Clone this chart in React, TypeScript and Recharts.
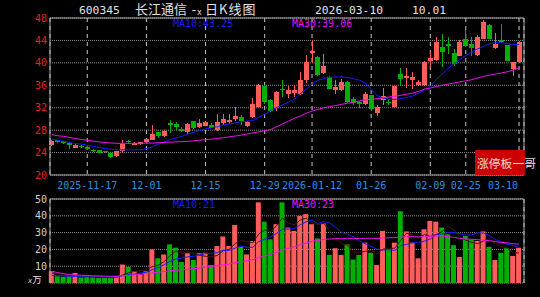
import {
  ComposedChart,
  Bar,
  Line,
  XAxis,
  YAxis,
  CartesianGrid,
  ReferenceLine,
  Cell,
} from 'recharts';

// daily candles, 2025-11-11 .. 2026-03-10
const OPEN = [
  25.4, 26.2, 26.0, 25.7, 24.9, 25.2, 25.0, 24.5, 24.4, 24.2,
  24.0, 23.4, 24.2, 26.0, 25.4, 25.5, 25.8, 26.3, 27.6, 26.9,
  29.3, 29.1, 28.2, 27.6, 29.6, 28.5, 28.8, 29.0, 28.1, 29.2,
  29.5, 29.9, 30.3, 28.7, 30.3, 32.1, 35.8, 33.4, 32.0, 35.4,
  34.5, 34.6, 34.5, 36.9, 41.8, 41.1, 38.2, 37.5, 35.2, 35.2,
  36.6, 33.5, 33.0, 32.7, 34.2, 31.0, 33.4, 33.1, 32.1, 38.1,
  37.3, 37.0, 36.0, 36.0, 40.3, 40.5, 42.9, 43.3, 41.8, 41.3,
  44.3, 43.4, 41.4, 44.3, 46.7, 42.6, 44.0, 43.1, 38.9, 40.1,
];
const HIGH = [
  26.3, 26.3, 26.1, 25.8, 25.6, 25.3, 25.1, 24.6, 24.5, 24.3,
  24.05, 24.3, 26.2, 26.3, 25.8, 25.9, 26.5, 28.9, 27.7, 28.1,
  29.8, 29.4, 28.6, 29.2, 29.7, 30.0, 29.6, 29.2, 30.9, 30.9,
  30.9, 32.2, 30.7, 29.7, 33.8, 36.2, 36.1, 33.6, 34.9, 37.0,
  35.9, 36.1, 38.4, 41.4, 44.0, 41.2, 41.6, 37.6, 36.9, 37.2,
  36.7, 33.9, 33.2, 34.8, 34.3, 32.4, 35.5, 33.5, 36.0, 39.0,
  39.0, 38.4, 37.0, 40.3, 42.0, 44.6, 45.2, 44.6, 42.5, 44.0,
  45.8, 44.6, 45.0, 47.6, 47.0, 45.3, 47.0, 43.2, 40.2, 43.9,
];
const LOW = [
  25.2, 25.7, 25.5, 24.6, 24.8, 24.9, 24.5, 24.1, 23.9, 23.9,
  23.1, 23.2, 24.0, 25.5, 25.3, 25.4, 25.6, 26.2, 26.6, 26.8,
  27.5, 28.0, 27.6, 27.4, 28.2, 28.3, 28.7, 28.3, 27.9, 29.0,
  29.1, 29.6, 29.0, 28.5, 30.2, 31.9, 32.7, 31.3, 31.5, 33.9,
  33.7, 34.0, 34.3, 36.4, 39.9, 37.6, 38.0, 35.3, 34.5, 35.0,
  32.9, 32.5, 32.0, 32.5, 31.5, 30.6, 32.4, 32.4, 32.0, 36.0,
  35.6, 35.3, 35.9, 35.9, 39.3, 40.4, 39.3, 41.6, 39.5, 41.2,
  42.8, 41.3, 41.3, 44.2, 44.2, 42.5, 43.6, 40.3, 37.7, 40.0,
];
const CLOSE = [
  26.1, 25.8, 25.7, 25.3, 25.4, 25.0, 24.6, 24.2, 24.0, 24.1,
  23.2, 24.2, 25.6, 25.8, 25.7, 25.8, 26.4, 27.3, 26.9, 27.9,
  29.0, 28.6, 27.8, 29.1, 28.4, 29.2, 29.4, 28.4, 29.5, 30.0,
  29.8, 30.6, 29.6, 29.5, 32.7, 36.0, 33.0, 31.5, 34.8, 35.2,
  35.2, 35.2, 37.0, 40.2, 42.1, 37.8, 39.5, 35.4, 35.7, 36.6,
  33.0, 32.9, 32.6, 34.5, 31.7, 32.2, 34.1, 32.8, 35.9, 37.2,
  37.6, 37.4, 36.6, 40.2, 40.8, 43.7, 42.0, 43.0, 39.8, 43.8,
  43.0, 42.7, 44.6, 47.3, 44.3, 43.4, 43.7, 40.4, 40.1, 43.8,
];
const MA10 = [
  26.4, 26.2, 26.0, 25.8, 25.6, 25.5, 25.3, 25.1, 24.9, 24.7,
  24.6, 24.5, 24.5, 24.5, 24.5, 24.5, 24.7, 25.0, 25.5, 25.9,
  26.3, 26.6, 26.9, 27.3, 27.6, 27.9, 28.2, 28.4, 28.6, 28.9,
  29.1, 29.3, 29.5, 29.6, 29.7, 30.3, 30.8, 31.5, 32.0, 32.5,
  33.0, 33.5, 34.5, 35.3, 36.2, 36.9, 37.2, 37.4, 37.5, 37.5,
  37.4, 37.2, 36.9, 36.4, 35.2, 34.2, 33.7, 33.5, 33.5, 33.6,
  33.8, 34.1, 34.6, 35.2, 35.8, 37.0, 38.0, 39.0, 39.8, 40.6,
  41.3, 41.9, 42.5, 42.9, 43.4, 43.6, 43.6, 43.4, 43.3, 43.25,
];
const MA30 = [
  27.2, 27.0, 26.9, 26.7, 26.5, 26.35, 26.2, 26.05, 25.9, 25.8,
  25.7, 25.65, 25.65, 25.65, 25.65, 25.65, 25.7, 25.7, 25.75, 25.8,
  25.85, 25.9, 25.95, 26.0, 26.1, 26.2, 26.3, 26.4, 26.5, 26.65,
  26.8, 26.95, 27.1, 27.3, 27.5, 27.7, 27.9, 28.1, 28.6, 29.1,
  29.6, 30.1, 30.5, 31.0, 31.4, 31.7, 32.0, 32.2, 32.4, 32.6,
  32.8, 33.0, 33.2, 33.4, 33.5, 33.6, 33.75, 33.9, 34.05, 34.2,
  34.4, 34.6, 34.9, 35.3, 35.5, 35.8, 36.0, 36.2, 36.4, 36.6,
  36.8, 37.0, 37.3, 37.6, 37.8, 38.0, 38.2, 38.4, 38.7, 39.06,
];

// volume, 万手
const VOLUME = [
  7, 4, 3.8, 4, 6, 3.3, 3.8, 3.3, 3, 3,
  3, 4, 11, 9.5, 7, 5, 7, 20, 14.7, 17,
  23, 21, 12.5, 17.7, 13.7, 17.7, 18, 10.7, 22, 27.7,
  22, 34.5, 21.5, 17, 25, 48, 36.5, 26, 35, 48,
  33, 31, 40, 41, 35, 26.5, 35.5, 16.7, 20.7, 16.7,
  23, 14, 16.7, 24, 18, 10.7, 31, 20, 24, 42.7,
  30.7, 24, 14.7, 32, 37, 36.5, 33, 29, 22.5, 15.5,
  28, 26, 25, 30.7, 21.5, 13.7, 18, 20.7, 16, 21,
];
const VOL_MA5 = [
  6, 5.5, 5, 4.5, 4.5, 4.2, 4.2, 4, 3.9, 3.5,
  3.2, 3.3, 4.8, 6.1, 6.9, 7.3, 7.9, 9.7, 10.7, 12.7,
  16.3, 19.1, 17.6, 18.6, 17.6, 16.5, 15.9, 15.6, 16.4, 19.2,
  20.1, 23.4, 25.5, 24.5, 24, 29.2, 31.6, 30.5, 34.1, 38.7,
  35.7, 34.6, 37.4, 38.6, 36, 34.7, 35.6, 30.9, 26.9, 23.2,
  22.5, 18.2, 18.2, 18.9, 19.3, 17.5, 20.1, 20.7, 20.7, 25.3,
  29.7, 28.5, 27.2, 28.8, 27.7, 28.9, 30.6, 33.7, 31.6, 27.3,
  25.4, 24.2, 23.4, 25, 26.2, 23.4, 21.8, 20.9, 18, 17.9,
];
const VOL_MA10 = [
  4.6, 4.4, 4.2, 4.0, 3.9, 3.7, 3.6, 3.6, 3.6, 3.6,
  3.6, 3.7, 4.3, 4.9, 5.3, 5.9, 6.4, 8.0, 9.2, 10.9,
  12.9, 14.3, 14.9, 15.6, 15.8, 16.8, 17.5, 17.6, 18.1, 19.5,
  19.4, 20.8, 21.9, 21.2, 21.3, 24.7, 26, 27.5, 29.5, 32,
  32.1, 32.4, 34.6, 36.4, 37.4, 35.4, 36.6, 35.7, 33.2, 30.1,
  29.1, 27.4, 25.1, 23.4, 21.7, 20, 19.6, 19.9, 19.4, 22.2,
  23, 24, 24, 24.9, 26.2, 28.8, 29.2, 30.1, 30, 29.3,
  28.5, 28.7, 29.9, 29.7, 28.2, 25.9, 24.4, 23.1, 22.4, 21,
];
const VOL_MA30 = [
  7, 6.2, 5.5, 5, 4.8, 4.6, 4.5, 4.3, 4.2, 4.1,
  4.0, 4.0, 4.3, 4.5, 4.8, 5.2, 5.6, 6.0, 6.4, 6.8,
  7.3, 7.6, 7.9, 8.2, 8.5, 8.9, 9.4, 9.8, 10.3, 10.8,
  11.4, 12.0, 12.6, 13.2, 13.9, 15.1, 16.1, 17.0, 18.2, 19.7,
  20.6, 21.6, 22.7, 23.8, 24.8, 25.3, 26.0, 26.2, 26.4, 26.4,
  26.5, 26.4, 26.5, 26.6, 26.6, 26.5, 26.8, 26.9, 27.0, 27.4,
  27.6, 27.6, 27.4, 27.6, 27.8, 28.0, 28.0, 27.6, 27.2, 26.6,
  26.3, 26.0, 25.8, 25.5, 25.2, 24.6, 24.2, 23.9, 23.4, 23.1,
];

const TICK_IDX = [6, 16, 26, 36, 44, 54, 64, 70, 79];
const TICK_LABELS = ['2025-11-17', '12-01', '12-15', '12-29', '2026-01-12', '01-26', '02-09', '02-25', '03-10'];
const PRICE_TICKS = [20, 24, 28, 32, 36, 40, 44, 48];
const VOL_TICKS = [10, 20, 30, 40, 50];

const X_DOMAIN: [number, number] = [-0.3, 79.84];
const UP = '#ff5c5c';
const DOWN = '#00b000';
const BLUE = '#1a1aff';
const MAGENTA = '#ee10ee';
const MONO = '"DejaVu Sans Mono", monospace';
const CJK = '"Noto Sans CJK SC", sans-serif';

const rows = OPEN.map((open, i) => ({
  i,
  open,
  high: HIGH[i],
  low: LOW[i],
  close: CLOSE[i],
  range: [LOW[i], HIGH[i]],
  ma10: MA10[i],
  ma30: MA30[i],
  vol: VOLUME[i],
  vma5: VOL_MA5[i],
  vma10: VOL_MA10[i],
  vma30: VOL_MA30[i],
}));

const Candle = (props: any) => {
  const { x, y, width, height, payload } = props;
  const { open, close, high, low } = payload;
  const color = close >= open ? UP : DOWN;
  const k = height / (high - low);
  const yo = y + (high - open) * k;
  const yc = y + (high - close) * k;
  const top = Math.min(yo, yc);
  const h = Math.max(Math.abs(yc - yo), 1);
  const cx = Math.round(x + width / 2) + 0.5;
  return (
    <g shapeRendering="crispEdges">
      <line x1={cx} x2={cx} y1={y} y2={y + height} stroke={color} strokeWidth={1} />
      <rect x={cx - 2.5} y={top} width={5} height={h} fill={color} />
    </g>
  );
};

const XTick = (props: any) => {
  const { x, payload } = props;
  const idx = TICK_IDX.indexOf(payload.value);
  const last = idx === TICK_IDX.length - 1;
  return (
    <text
      x={last ? x - 1 : x}
      y={189}
      textAnchor={last ? 'end' : 'middle'}
      fill="#2f8fe0"
      fontSize={10}
      fontFamily={MONO}
    >
      {TICK_LABELS[idx]}
    </text>
  );
};

const YTick = (color: string) => (props: any) => (
  <text x={47} y={props.y + 3.5} textAnchor="end" fill={color} fontSize={10} fontFamily={MONO}>
    {props.payload.value}
  </text>
);

export default function App() {
  return (
    <div
      style={{
        position: 'absolute',
        left: 0,
        top: 0,
        width: 540,
        height: 297,
        background: '#000',
        overflow: 'hidden',
      }}
    >
      <div style={{ position: 'absolute', left: 0, top: 0 }}>
        <ComposedChart width={540} height={192} data={rows} margin={{ top: 18, right: 16, left: 0, bottom: 0 }}>
          <CartesianGrid vertical={false} stroke="#8c8c8c" strokeDasharray="1 1" />
          <CartesianGrid horizontal={false} stroke="#c8c8c8" strokeDasharray="4 4" />
          <XAxis
            dataKey="i"
            type="number"
            domain={X_DOMAIN}
            ticks={TICK_IDX}
            interval={0}
            height={17}
            tickLine={false}
            axisLine={{ stroke: '#a8a8a8' }}
            tick={<XTick />}
          />
          <YAxis
            type="number"
            domain={[20, 48]}
            ticks={PRICE_TICKS}
            interval={0}
            width={50}
            tickLine={false}
            axisLine={{ stroke: '#a8a8a8' }}
            tick={YTick('#e82020')}
          />
          <ReferenceLine y={48} stroke="#a8a8a8" />
          <ReferenceLine x={X_DOMAIN[1]} stroke="#a8a8a8" />
          <Bar dataKey="range" barSize={5} shape={<Candle />} isAnimationActive={false} />
          <Line type="linear" dataKey="ma10" stroke={BLUE} strokeWidth={1} dot={false} isAnimationActive={false} />
          <Line type="linear" dataKey="ma30" stroke={MAGENTA} strokeWidth={1} dot={false} isAnimationActive={false} />
        </ComposedChart>
      </div>
      <div style={{ position: 'absolute', left: 0, top: 190 }}>
        <ComposedChart width={540} height={107} data={rows} margin={{ top: 9, right: 16, left: 0, bottom: 14 }}>
          <CartesianGrid vertical={false} stroke="#8c8c8c" strokeDasharray="1 1" />
          <CartesianGrid horizontal={false} stroke="#c8c8c8" strokeDasharray="4 4" />
          <XAxis
            dataKey="i"
            type="number"
            domain={X_DOMAIN}
            ticks={TICK_IDX}
            interval={0}
            height={0}
            tick={false}
            tickLine={false}
            axisLine={false}
          />
          <YAxis
            type="number"
            domain={[0, 50]}
            ticks={VOL_TICKS}
            interval={0}
            width={50}
            tickLine={false}
            axisLine={{ stroke: '#a8a8a8' }}
            tick={YTick('#d0d0d0')}
          />
          <ReferenceLine y={50} stroke="#a8a8a8" />
          <ReferenceLine x={X_DOMAIN[1]} stroke="#a8a8a8" />
          <Bar dataKey="vol" barSize={5} isAnimationActive={false}>
            {rows.map((r) => (
              <Cell key={r.i} fill={r.close >= r.open ? UP : DOWN} />
            ))}
          </Bar>
          <Line type="linear" dataKey="vma5" stroke="#4a1212" strokeWidth={1} dot={false} isAnimationActive={false} />
          <Line type="linear" dataKey="vma10" stroke={BLUE} strokeWidth={1} dot={false} isAnimationActive={false} />
          <Line type="linear" dataKey="vma30" stroke={MAGENTA} strokeWidth={1} dot={false} isAnimationActive={false} />
        </ComposedChart>
      </div>
      <svg
        width={540}
        height={297}
        style={{ position: 'absolute', left: 0, top: 0, pointerEvents: 'none' }}
      >
        <text x={79} y={13.5} fill="#e0e0e0" fontSize={11.3} fontFamily={MONO}>600345</text>
        <text x={135} y={14} fill="#e0e0e0" fontSize={13} fontFamily={CJK}>长江通信</text>
        <text x={190} y={14} fill="#e0e0e0" fontSize={13} fontFamily={MONO}>-</text>
        <text x={197} y={15} fill="#e0e0e0" fontSize={8} fontFamily={MONO}>x</text>
        <text x={205} y={14} fill="#e0e0e0" fontSize={13} fontFamily={CJK} letterSpacing={1}>日K线图</text>
        <text x={315} y={13.5} fill="#e0e0e0" fontSize={11.3} fontFamily={MONO}>2026-03-10</text>
        <text x={412} y={13.5} fill="#e0e0e0" fontSize={11.3} fontFamily={MONO}>10.01</text>
        <text x={173} y={27} fill={BLUE} fontSize={10} fontFamily={MONO}>{`MA10:${MA10[MA10.length - 1]}`}</text>
        <text x={292} y={27} fill={MAGENTA} fontSize={10} fontFamily={MONO}>{`MA30:${MA30[MA30.length - 1]}`}</text>
        <text x={173} y={207.5} fill={BLUE} fontSize={10} fontFamily={MONO}>{`MA10:${VOL_MA10[VOL_MA10.length - 1]}`}</text>
        <text x={292} y={207.5} fill={MAGENTA} fontSize={10} fontFamily={MONO}>{`MA30:${Math.round(VOL_MA30[VOL_MA30.length - 1])}`}</text>
        <rect x={475} y={150} width={50} height={25} fill="#cc0000" />
        <text x={477} y={168} fill="#eedada" fontSize={11.8} fontFamily={CJK}>涨停板一哥</text>
        <text x={28} y={283} fill="#e0e0e0" fontSize={9.5} fontFamily={MONO}>
          <tspan fontSize={7} fontStyle="italic">x</tspan>
          <tspan fontFamily={CJK}>万</tspan>
        </text>
      </svg>
    </div>
  );
}
